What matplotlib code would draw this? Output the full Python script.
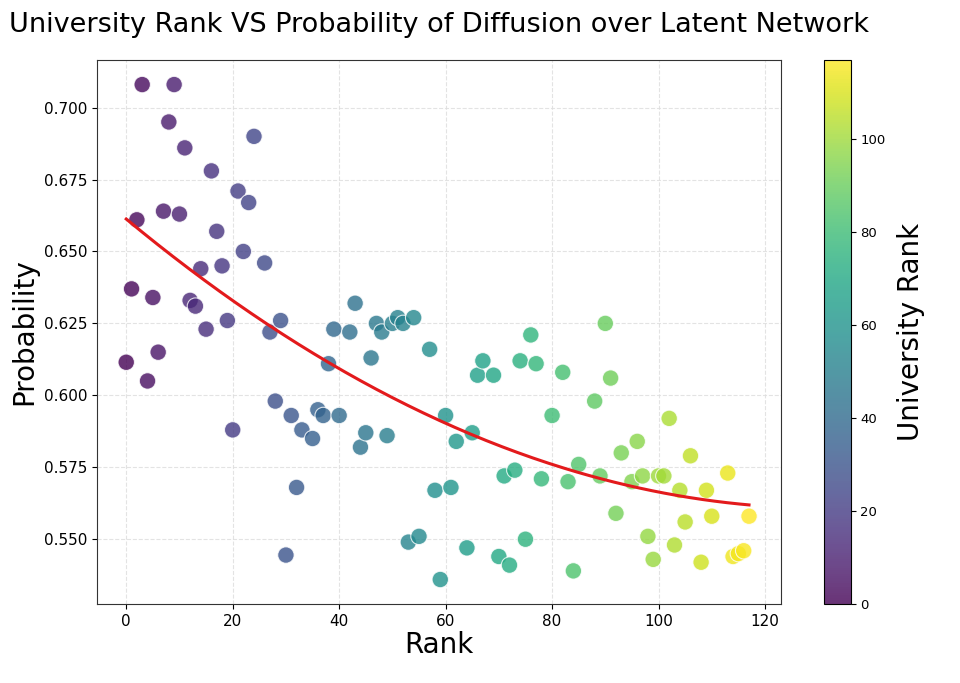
import matplotlib
matplotlib.use("Agg")
import matplotlib.pyplot as plt
import numpy as np

# rank of each university and its estimated diffusion probability
ranks = [0, 1, 2, 3, 4, 5, 6, 7, 8, 9, 10, 11, 12, 13, 14, 15, 16, 17, 18, 19,
         20, 21, 22, 23, 24, 26, 27, 28, 29, 30, 31, 32, 33, 35, 36, 37, 38, 39,
         40, 42, 43, 44, 45, 46, 47, 48, 49, 50, 51, 52, 53, 54, 55, 57, 58, 59,
         60, 61, 62, 64, 65, 66, 67, 69, 70, 71, 72, 73, 74, 75, 76, 77, 78, 80,
         82, 83, 84, 85, 88, 89, 90, 91, 92, 93, 95, 96, 97, 98, 99, 100, 101,
         102, 103, 104, 105, 106, 108, 109, 110, 113, 114, 115, 116, 117]
probs = [0.6115, 0.637, 0.661, 0.708, 0.605, 0.634, 0.615, 0.664, 0.695, 0.708,
         0.663, 0.686, 0.633, 0.631, 0.644, 0.623, 0.678, 0.657, 0.645, 0.626,
         0.588, 0.671, 0.650, 0.667, 0.690, 0.646, 0.622, 0.598, 0.626, 0.5445,
         0.593, 0.568, 0.588, 0.585, 0.595, 0.593, 0.611, 0.623, 0.593, 0.622,
         0.632, 0.582, 0.587, 0.613, 0.625, 0.622, 0.586, 0.625, 0.627, 0.625,
         0.549, 0.627, 0.551, 0.616, 0.567, 0.536, 0.593, 0.568, 0.584, 0.547,
         0.587, 0.607, 0.612, 0.607, 0.544, 0.572, 0.541, 0.574, 0.612, 0.550,
         0.621, 0.611, 0.571, 0.593, 0.608, 0.570, 0.539, 0.576, 0.598, 0.572,
         0.625, 0.606, 0.559, 0.580, 0.570, 0.584, 0.572, 0.551, 0.543, 0.572,
         0.572, 0.592, 0.548, 0.567, 0.556, 0.579, 0.542, 0.567, 0.558, 0.573,
         0.544, 0.545, 0.546, 0.558]

x = np.asarray(ranks, dtype=float)
y = np.asarray(probs, dtype=float)

fig = plt.figure(figsize=(9.6, 6.83), dpi=100)
ax = fig.add_axes([0.101, 0.1157, 0.7125, 0.7963])
cax = fig.add_axes([0.858, 0.1157, 0.028, 0.7963])

sc = ax.scatter(x, y, c=x, cmap="viridis", vmin=0, vmax=117, s=140,
                alpha=0.8, edgecolors="white", linewidths=0.8, zorder=3)

# quadratic trend through the points
coef = np.polyfit(x, y, 2)
xs = np.linspace(x.min(), x.max(), 200)
ax.plot(xs, np.polyval(coef, xs), color="#e31a1c", lw=2.2, zorder=4)

ax.set_xlim(-5.5, 123)
ax.set_ylim(0.5275, 0.7165)
ax.set_yticks([0.550, 0.575, 0.600, 0.625, 0.650, 0.675, 0.700])
ax.set_yticklabels(["0.550", "0.575", "0.600", "0.625", "0.650", "0.675", "0.700"])
ax.set_xticks([0, 20, 40, 60, 80, 100, 120])
ax.tick_params(labelsize=11)
ax.grid(True, ls="--", color="#dddddd", lw=0.8, alpha=0.8, zorder=0)
for sp in ax.spines.values():
    sp.set_color("#333333")

ax.set_xlabel("Rank", fontsize=20, labelpad=2)
ax.set_ylabel("Probability", fontsize=20, labelpad=4)
ax.set_title("University Rank VS Probability of Diffusion over Latent Network",
             fontsize=19.5, pad=20)

cb = fig.colorbar(sc, cax=cax)
cb.set_label("University Rank", fontsize=20, labelpad=8)
cb.ax.tick_params(labelsize=9.5)

fig.savefig("out.png", dpi=100)
